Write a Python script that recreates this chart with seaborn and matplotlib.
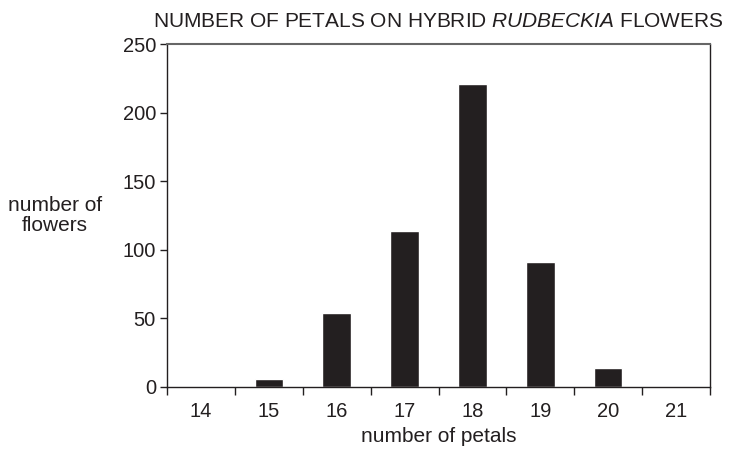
import matplotlib
matplotlib.use("Agg")
import matplotlib.pyplot as plt
import seaborn as sns
import pandas as pd

petals = ["14", "15", "16", "17", "18", "19", "20", "21"]
flowers = [0, 6, 54, 114, 221, 91, 14, 0]
y_ticks = [0, 50, 100, 150, 200, 250]

sns.set_theme(style="ticks")
plt.rcParams['font.family'] = ['Liberation Sans', 'DejaVu Sans']
plt.rcParams['mathtext.fontset'] = 'custom'
plt.rcParams['mathtext.it'] = 'Liberation Sans:italic'
plt.rcParams['mathtext.rm'] = 'Liberation Sans'
ink = "#231f20"

df = pd.DataFrame({"petals": petals, "flowers": flowers})

fig = plt.figure(figsize=(7.3, 4.55), dpi=100)
ax = fig.add_axes([167/730, 1 - 387/455, (710 - 167)/730, (387 - 44)/455])
sns.barplot(data=df, x="petals", y="flowers", color=ink, width=0.42,
            saturation=1, ax=ax, order=petals)

ax.set_xlim(-0.5, len(petals) - 0.5)
ax.set_ylim(0, 250)
ax.set_yticks(y_ticks)
ax.set_yticklabels([str(v) for v in y_ticks], fontsize=14.5, color=ink)
ax.set_xticks(range(len(petals)))
ax.set_xticklabels(petals, fontsize=14.5, color=ink)
ax.tick_params(axis="x", which="major", length=0, pad=11)
ax.set_xticks([i - 0.5 for i in range(len(petals) + 1)], minor=True)
ax.tick_params(axis="x", which="minor", length=6, width=1, color=ink, direction="out")
ax.tick_params(axis="y", length=5, width=1, color=ink, pad=3)

for s in ["left", "bottom", "right"]:
    ax.spines[s].set_visible(True)
    ax.spines[s].set_color(ink)
    ax.spines[s].set_linewidth(1)
ax.spines["top"].set_visible(True)
ax.spines["top"].set_color("#666666")
ax.spines["top"].set_linewidth(1.5)

ax.set_xlabel("number of petals", fontsize=15, color=ink, labelpad=4)
ax.set_ylabel("number of\nflowers", fontsize=15, color=ink, rotation=0,
              ha="center", va="center", linespacing=1.1)
ax.yaxis.set_label_coords(-0.206, 0.50)

ax.set_title("NUMBER OF PETALS ON HYBRID $\\mathit{RUDBECKIA}$ FLOWERS",
             fontsize=15, color=ink, pad=12)

fig.savefig("out.png", dpi=100)
